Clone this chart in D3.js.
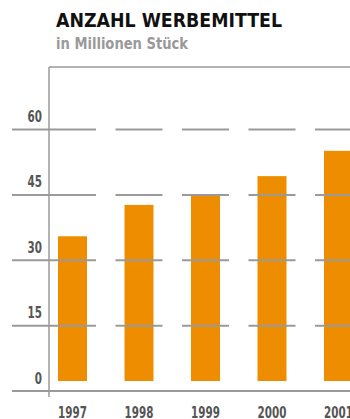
<!DOCTYPE html>
<html>
<head>
<meta charset="utf-8">
<script src="https://cdn.jsdelivr.net/npm/d3@7"></script>
<style>
  html, body { margin: 0; padding: 0; background: #fff; }
  svg { display: block; }
  text { font-family: "Liberation Sans Narrow", "Arial Narrow", "DejaVu Sans Condensed", sans-serif; font-weight: bold; }
</style>
</head>
<body>
<svg id="chart" width="350" height="419"></svg>
<script>
const title = "ANZAHL WERBEMITTEL";
const subtitle = "in Millionen Stück";
const categories = ["1997", "1998", "1999", "2000", "2001"];
const values = [35.5, 42.7, 44.8, 49.3, 55.1];
const yTicks = [0, 15, 30, 45, 60];

const svg = d3.select("#chart");
const W = 350, H = 419;
const axisX = 49, frameTop = 67;
const barW = 29, segHalf = 23.5;
const lineColor = "#9a9a9a";
const barColor = "#ee8d00";
const digitW = 7.2;

const y = d3.scaleLinear().domain([0, 60]).range([391, 129.5]);
const x = d3.scalePoint().domain(categories).range([72.5, 338.5]);

// Title
svg.append("text").attr("x", 56).attr("y", 27).attr("font-size", 20).attr("fill", "#111")
  .attr("textLength", 226).attr("lengthAdjust", "spacingAndGlyphs").text(title);
svg.append("text").attr("x", 56).attr("y", 48.5).attr("font-size", 15).attr("fill", "#999")
  .attr("textLength", 132).attr("lengthAdjust", "spacingAndGlyphs").text(subtitle);

// Bars
svg.append("g").selectAll("rect").data(values).join("rect")
  .attr("x", (d, i) => x(categories[i]) - barW / 2)
  .attr("width", barW)
  .attr("y", d => y(d))
  .attr("height", d => y(0) - 10 - y(d))
  .attr("fill", barColor);

// Frame: top line and vertical axis
svg.append("line").attr("x1", axisX).attr("x2", W).attr("y1", frameTop).attr("y2", frameTop)
  .attr("stroke", lineColor).attr("stroke-width", 1.5);
svg.append("line").attr("x1", axisX).attr("x2", axisX).attr("y1", frameTop).attr("y2", y(0) + 6)
  .attr("stroke", lineColor).attr("stroke-width", 1.5);

// Baseline
svg.append("line").attr("x1", 12).attr("x2", W).attr("y1", y(0)).attr("y2", y(0))
  .attr("stroke", lineColor).attr("stroke-width", 2);

// Gridline segments (over bars)
const grid = svg.append("g");
yTicks.filter(t => t > 0).forEach(t => {
  grid.append("line").attr("x1", 12).attr("x2", axisX).attr("y1", y(t)).attr("y2", y(t))
    .attr("stroke", lineColor).attr("stroke-width", 2);
  categories.forEach(c => {
    grid.append("line").attr("x1", x(c) - segHalf).attr("x2", x(c) + segHalf)
      .attr("y1", y(t)).attr("y2", y(t))
      .attr("stroke", lineColor).attr("stroke-width", 2);
  });
});

// Y tick labels
svg.append("g").selectAll("text").data(yTicks).join("text")
  .attr("x", 42).attr("y", d => y(d) - 7.5)
  .attr("text-anchor", "end").attr("font-size", 16).attr("fill", "#555")
  .attr("textLength", d => String(d).length * digitW).attr("lengthAdjust", "spacingAndGlyphs")
  .text(d => d);

// X labels
svg.append("g").selectAll("text").data(categories).join("text")
  .attr("x", d => x(d)).attr("y", 417.5)
  .attr("text-anchor", "middle").attr("font-size", 16).attr("fill", "#555")
  .attr("textLength", d => d.length * digitW).attr("lengthAdjust", "spacingAndGlyphs")
  .text(d => d);
</script>
</body>
</html>
